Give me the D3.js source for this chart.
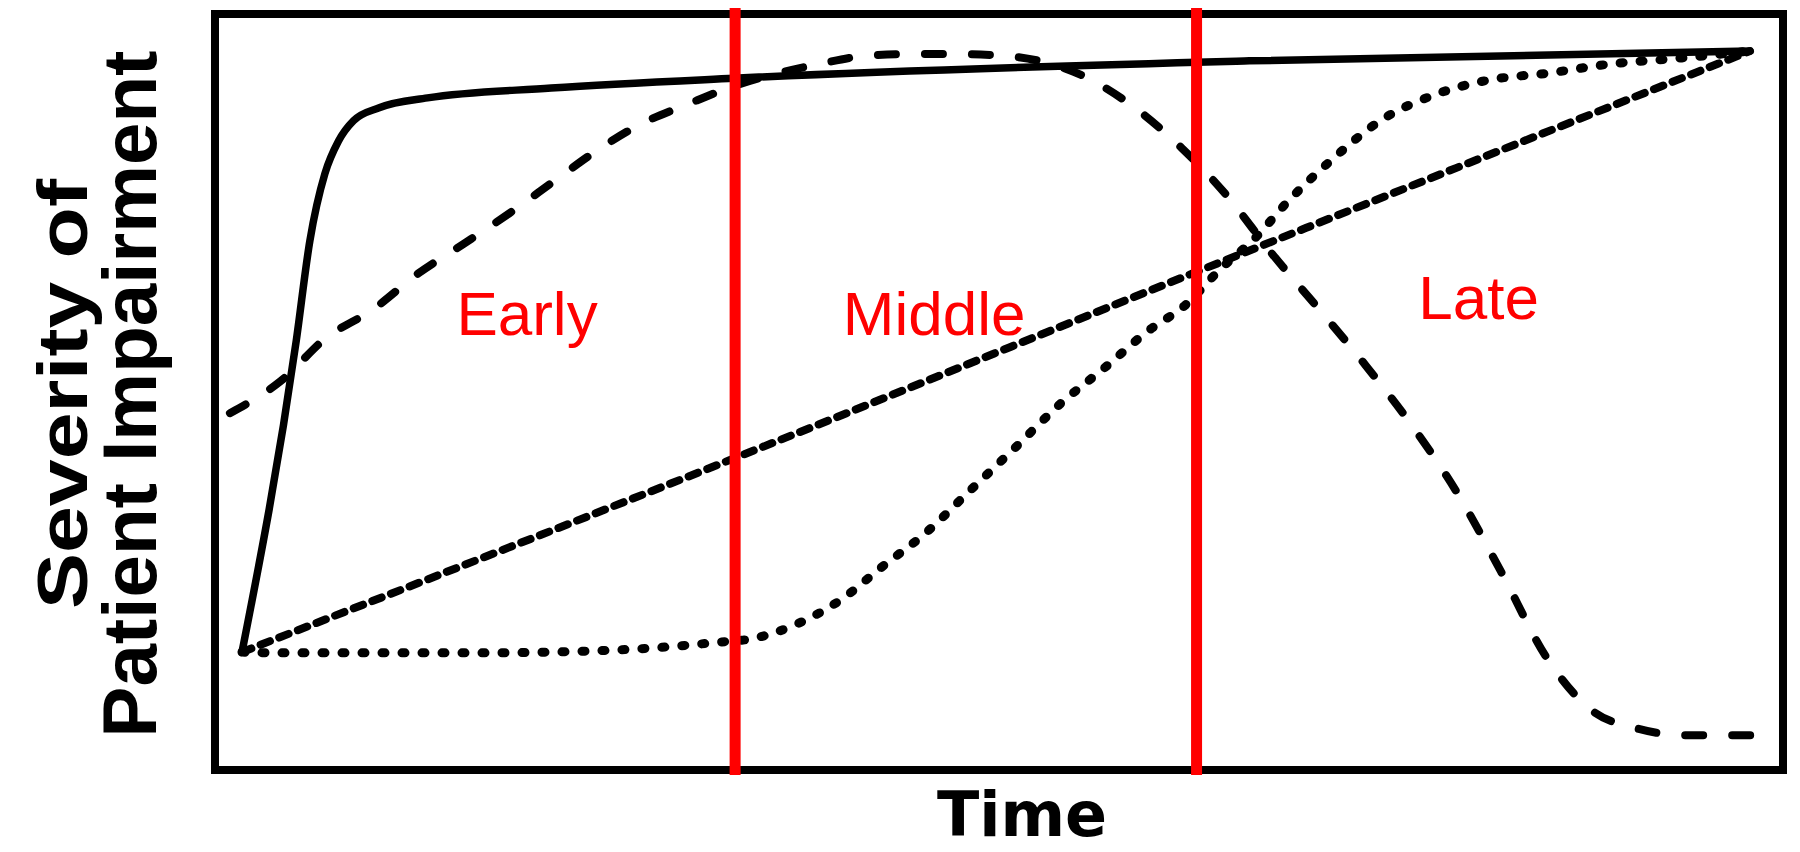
<!DOCTYPE html>
<html>
<head>
<meta charset="utf-8">
<script src="https://cdn.jsdelivr.net/npm/d3@7"></script>
<style>
  body { margin: 0; background: #fff; }
  svg { display: block; }
</style>
</head>
<body>
<div id="chart"></div>
<script>
// time runs 0..100 from the common start point to the common end point,
// severity 0..100 from the bottom of the box to its top
const solidTime = [0, 3.6, 4.5, 5.5, 6.4, 7.4, 9.1, 12.3, 20.5, 32.6, 66.8, 100];
const solidSeverity = [15.6, 56.8, 70.0, 78.9, 83.2, 85.9, 87.6, 88.9, 90.2, 91.5, 93.8, 95.1];

const longDashTime = [-0.8, 2.6, 5.6, 8.6, 11.7, 14.7, 17.7, 20.7, 23.5, 26.5, 29.6, 32.1, 38.3, 41.5, 44.3, 47.3, 50.4,
  56.2, 59.2, 62.3, 65.3, 68.3, 71.4, 74.4, 77.5, 80.6, 83.5, 86.5, 89.5, 92.5, 95.6, 98.7, 101.5];
const longDashSeverity = [47.2, 51.5, 57.2, 60.8, 65.7, 69.6, 73.6, 77.9, 81.9, 85.5, 88.1, 90.1, 93.4, 94.5, 94.7, 94.7, 94.5,
  91.4, 87.6, 82.3, 76.0, 68.3, 61.0, 53.8, 45.8, 36.6, 26.2, 14.9, 7.9, 5.5, 4.6, 4.6, 4.6];

const shortDashTime = [0, 32.6, 63.3, 100];
const shortDashSeverity = [15.6, 41.2, 65.9, 95.1];

const dottedTime = [0, 2.3, 15.8, 25.1, 31.6, 33.9, 36.9, 39.7, 42.4, 45.3, 48.3, 51.3, 54.3, 57.2, 60.1, 62.5,
  64.9, 67.2, 69.4, 72.2, 75.5, 79.2, 82.5, 86.7, 90.8, 95.0, 100];
const dottedSeverity = [15.6, 15.5, 15.5, 15.9, 16.9, 17.4, 19.4, 22.5, 26.8, 31.3, 37.0, 42.7, 48.5, 53.2, 58.1, 61.4,
  66.3, 70.4, 75.3, 80.6, 85.9, 89.4, 91.2, 92.2, 93.4, 94.1, 95.1];

const phaseBounds = [32.7, 63.3];
const phaseNames = ["Early", "Middle", "Late"];
const phaseLabelTime = [18.9, 45.9, 82.0];
const phaseLabelSeverity = [57.5, 57.5, 59.7];

const xTitle = "Time";
const yTitle = ["Severity of", "Patient Impairment"];

const width = 1800, height = 852;
const box = {left: 215, right: 1783, top: 14, bottom: 770};

const svg = d3.select("#chart")
  .append("svg")
  .attr("width", width)
  .attr("height", height);

const x = d3.scaleLinear().domain([0, 100]).range([box.left + 27, box.right - 33]);
const y = d3.scaleLinear().domain([0, 100]).range([box.bottom, box.top]);

svg.append("rect")
  .attr("x", box.left)
  .attr("y", box.top)
  .attr("width", box.right - box.left)
  .attr("height", box.bottom - box.top)
  .attr("fill", "none")
  .attr("stroke", "#000")
  .attr("stroke-width", 8);

const line = d3.line()
  .x(d => x(d[0]))
  .y(d => y(d[1]))
  .curve(d3.curveMonotoneX);

const series = [
  {t: solidTime, s: solidSeverity, dash: null, w: 7.5},
  {t: longDashTime, s: longDashSeverity, dash: "18,29", w: 8},
  {t: shortDashTime, s: shortDashSeverity, dash: "10,10", w: 8},
  {t: dottedTime, s: dottedSeverity, dash: "3,17", w: 9}
];

svg.selectAll(".curve")
  .data(series)
  .join("path")
  .attr("class", "curve")
  .attr("d", d => line(d3.zip(d.t, d.s)))
  .attr("fill", "none")
  .attr("stroke", "#000")
  .attr("stroke-width", d => d.w)
  .attr("stroke-linecap", "round")
  .attr("stroke-linejoin", "round")
  .attr("stroke-dasharray", d => d.dash);

// phase boundaries
svg.selectAll(".bound")
  .data(phaseBounds)
  .join("line")
  .attr("class", "bound")
  .attr("x1", d => x(d))
  .attr("x2", d => x(d))
  .attr("y1", box.top - 6)
  .attr("y2", box.bottom + 5)
  .attr("stroke", "#ff0000")
  .attr("stroke-width", 11);

svg.selectAll(".phase")
  .data(phaseNames)
  .join("text")
  .attr("class", "phase")
  .attr("x", (d, i) => x(phaseLabelTime[i]))
  .attr("y", (d, i) => y(phaseLabelSeverity[i]))
  .attr("text-anchor", "middle")
  .style("font-family", "'Liberation Sans', Arial, sans-serif")
  .style("font-size", "62px")
  .attr("fill", "#ff0000")
  .text(d => d);

svg.append("text")
  .attr("x", 1022)
  .attr("y", 836)
  .attr("text-anchor", "middle")
  .style("font-family", "'DejaVu Sans', sans-serif")
  .style("font-weight", "bold")
  .style("font-size", "62px")
  .text(xTitle);

const yt = svg.append("g")
  .attr("transform", "translate(0, 394) rotate(-90)");

yt.append("text")
  .attr("x", 0)
  .attr("y", 87)
  .attr("text-anchor", "middle")
  .attr("textLength", 430)
  .attr("lengthAdjust", "spacingAndGlyphs")
  .style("font-family", "'Liberation Sans', Arial, sans-serif")
  .style("font-weight", "bold")
  .style("font-size", "70px")
  .text(yTitle[0]);

yt.append("text")
  .attr("x", 0)
  .attr("y", 156)
  .attr("text-anchor", "middle")
  .attr("textLength", 687)
  .attr("lengthAdjust", "spacingAndGlyphs")
  .style("font-family", "'Liberation Sans', Arial, sans-serif")
  .style("font-weight", "bold")
  .style("font-size", "76px")
  .text(yTitle[1]);
</script>
</body>
</html>
